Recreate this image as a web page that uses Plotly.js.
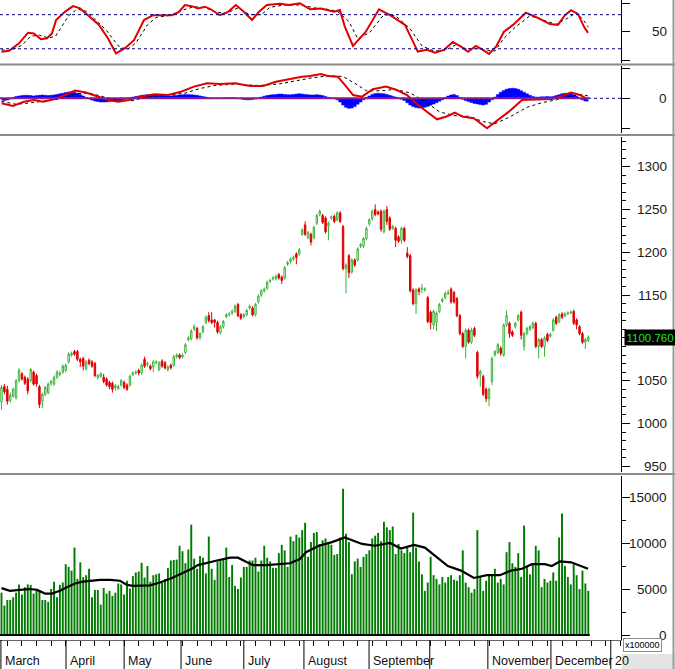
<!DOCTYPE html>
<html><head><meta charset="utf-8">
<script src="https://cdn.plot.ly/plotly-3.0.1.min.js"></script>
<style>html,body{margin:0;padding:0;background:#fff;}#chart{width:675px;height:669px;}</style>
</head><body><div id="chart"></div>
<script>
// ---- Price (OHLC), one entry per trading day ----
const open=[1025,1043,1040,1027,1032,1030,1050,1058,1054,1052,1050,1060,1056,1043,1026,1034,1036,1047,1046,1054,1057,1060,1062,1072,1080,1084,1084,1075,1076,1064,1074,1072,1070,1054,1055,1054,1052,1048,1047,1042,1041,1045,1048,1045,1045,1057,1059,1062,1059,1075,1069,1067,1066,1071,1063,1073,1071,1063,1068,1068,1078,1080,1078,1083,1098,1099,1110,1111,1100,1107,1118,1126,1121,1121,1118,1106,1113,1125,1127,1129,1131,1139,1127,1125,1127,1135,1135,1127,1142,1150,1155,1158,1166,1169,1169,1174,1171,1170,1186,1189,1192,1198,1198,1221,1232,1217,1221,1217,1234,1244,1243,1240,1231,1240,1242,1238,1246,1230,1181,1196,1177,1191,1191,1207,1207,1216,1233,1239,1250,1247,1248,1224,1250,1240,1228,1228,1218,1214,1228,1199,1196,1156,1140,1157,1157,1156,1147,1130,1115,1118,1131,1143,1147,1152,1157,1153,1146,1126,1105,1090,1109,1095,1111,1083,1057,1055,1040,1029,1049,1080,1083,1088,1080,1115,1117,1107,1113,1121,1130,1090,1105,1110,1112,1117,1090,1098,1090,1104,1102,1109,1124,1119,1128,1126,1128,1129,1131,1121,1113,1105,1095,1097];
const high=[1045,1046,1044,1036,1042,1052,1065,1060,1056,1054,1065,1062,1058,1045,1036,1044,1048,1051,1056,1062,1061,1069,1070,1083,1084,1086,1086,1077,1078,1074,1076,1074,1072,1058,1060,1058,1054,1050,1049,1046,1045,1052,1050,1047,1057,1061,1062,1064,1070,1078,1072,1069,1074,1074,1073,1075,1073,1068,1070,1080,1082,1082,1082,1094,1102,1110,1116,1113,1107,1115,1126,1130,1130,1122,1120,1115,1121,1129,1130,1133,1139,1141,1129,1129,1134,1139,1137,1141,1151,1157,1159,1167,1169,1172,1174,1176,1173,1184,1190,1194,1196,1200,1205,1228,1236,1225,1223,1231,1245,1250,1245,1242,1236,1243,1244,1248,1248,1232,1187,1198,1193,1193,1206,1211,1218,1230,1240,1250,1256,1249,1250,1250,1254,1242,1232,1230,1220,1230,1230,1206,1198,1158,1158,1159,1163,1159,1149,1132,1133,1131,1141,1147,1154,1156,1159,1155,1148,1128,1107,1111,1111,1112,1113,1085,1063,1057,1042,1042,1078,1086,1094,1090,1117,1132,1119,1109,1119,1128,1132,1107,1113,1115,1119,1119,1100,1100,1102,1106,1106,1123,1126,1129,1130,1130,1131,1132,1133,1123,1115,1107,1100,1103];
const low=[1016,1034,1022,1024,1030,1028,1048,1050,1045,1034,1048,1044,1043,1018,1018,1032,1034,1044,1044,1052,1055,1058,1060,1070,1078,1079,1073,1066,1062,1062,1068,1065,1054,1052,1053,1047,1043,1040,1036,1038,1039,1043,1040,1038,1043,1055,1057,1056,1057,1065,1066,1062,1060,1069,1061,1065,1063,1061,1063,1066,1076,1075,1076,1081,1096,1097,1108,1098,1098,1105,1116,1118,1116,1112,1105,1104,1111,1123,1125,1127,1129,1124,1121,1123,1125,1133,1125,1125,1140,1148,1153,1156,1164,1167,1167,1168,1163,1168,1184,1187,1190,1186,1196,1219,1219,1215,1208,1215,1232,1242,1233,1222,1214,1238,1234,1236,1234,1179,1152,1170,1175,1183,1189,1205,1205,1214,1231,1237,1242,1243,1224,1222,1232,1225,1226,1206,1211,1210,1212,1193,1153,1138,1128,1150,1152,1154,1117,1110,1110,1108,1129,1141,1145,1150,1140,1140,1124,1103,1088,1076,1093,1093,1101,1052,1043,1032,1025,1020,1045,1078,1081,1079,1078,1113,1100,1101,1111,1119,1098,1085,1103,1108,1110,1088,1076,1088,1078,1095,1100,1107,1115,1117,1122,1124,1127,1128,1115,1110,1103,1093,1087,1095];
const close=[1042,1037,1026,1033,1040,1050,1062,1052,1047,1038,1063,1046,1046,1022,1034,1042,1046,1049,1054,1060,1059,1067,1068,1081,1082,1081,1075,1072,1067,1072,1070,1067,1056,1056,1058,1049,1045,1043,1040,1044,1043,1050,1042,1040,1055,1059,1060,1059,1068,1067,1070,1064,1072,1072,1071,1067,1065,1066,1065,1078,1080,1077,1080,1092,1100,1108,1113,1100,1105,1113,1124,1120,1118,1118,1107,1113,1119,1127,1128,1131,1137,1126,1123,1127,1132,1137,1127,1139,1149,1155,1157,1165,1167,1170,1172,1170,1167,1182,1188,1192,1194,1194,1203,1226,1221,1223,1212,1229,1243,1248,1235,1224,1234,1241,1236,1246,1236,1181,1185,1176,1191,1185,1204,1209,1216,1228,1238,1248,1244,1245,1227,1248,1236,1227,1230,1214,1213,1228,1214,1195,1155,1140,1156,1154,1158,1157,1119,1118,1131,1129,1139,1145,1152,1153,1142,1142,1126,1105,1090,1109,1095,1109,1103,1055,1061,1034,1029,1040,1076,1084,1092,1082,1115,1126,1105,1103,1117,1126,1103,1105,1111,1113,1117,1090,1098,1090,1100,1097,1104,1121,1117,1127,1124,1128,1129,1130,1117,1115,1105,1095,1098,1100.76];
// ---- Volume (units of x100000), one per day ----
const volume=[4600,3200,3800,3800,4100,4600,5500,4400,5200,5500,5450,4500,4800,4800,3800,3800,3600,5000,5800,4100,5450,5700,7700,7400,7000,9500,6100,7900,6300,6500,7200,4100,4900,4900,3300,5100,4500,4800,4250,4600,5600,5500,4400,5900,5050,6400,6800,6900,7850,6250,7500,5800,6500,6600,6700,5700,6100,7300,8100,8150,8200,9700,9100,7800,9300,12000,8300,7200,8600,8400,6700,10700,7200,6000,8000,8150,8300,9500,6300,7600,5350,5000,6250,7400,7400,8100,8100,8400,6900,8100,9700,8400,8000,7300,7300,8900,9800,9200,7400,10700,10200,
10900,10600,11400,12200,8500,10100,11100,11200,9900,10300,10500,10100,9800,8700,8800,10600,15900,11000,10100,6600,8000,8300,7400,8500,8800,9200,10500,10800,11100,10200,12300,11700,11400,11800,8800,9900,9200,8900,9500,9000,13300,9500,8000,6600,4800,5700,8500,6500,6100,5500,6300,5700,6300,6500,6000,5900,6500,9200,5700,5200,4600,5000,11400,6300,4800,5900,6600,6600,7200,5700,6100,5500,9000,10100,7800,7400,8900,6300,11900,7400,6600,7700,9700,9200,5200,6100,5700,5900,6800,5900,10600,13200,7500,6300,5500,7700,6500,5000,7000,5600,4800];
// ---- Volume moving average (day position, value) ----
const volMaX=[0,2.9,6.3,9.8,12.2,14.9,17.3,20,22.4,25.2,27.9,31,33.7,37.2,40.6,43,45,50.9,54.3,58.4,61.8,65.2,67.3,70.4,73.8,78.3,81,84.1,86.1,90.9,95.4,98.8,102.2,104.3,108.7,113.2,117.6,120.4,123.5,127.9,133.1,136.8,141.3,145,148.5,152.9,157.4,161.8,166.3,170.7,174.5,178.3,181.7,186.1,188.5,191.3,195.1,198.1,200.9];
const volMa=[5100,4800,4900,5000,4900,4500,4500,4800,5200,5600,5800,5900,6000,6000,5900,5450,5350,5400,5700,6200,6700,7200,7600,7800,8100,8400,8400,7900,7600,7600,7700,7800,8250,9000,9700,10100,10600,10300,9900,9700,10000,9400,9800,9500,8600,7500,7000,6200,6500,6500,7000,7200,7700,7700,7500,8000,7900,7500,7200];
// ---- MACD ----
const macdHist=[-1.2,-1.5,-1.2,-0.5,0.5,1.2,1.5,1.8,2,2,1.8,1.5,1.8,2,2.2,2,1.8,2,2.2,2.6,3,3.4,3.8,4.2,4.4,4,3.4,2.6,1.6,0.5,-0.5,-1.2,-1.8,-2.2,-2.5,-2.5,-2.4,-2.2,-2,-1.8,-1.6,-1.2,-0.8,-0.3,0.3,0.8,1.2,1.6,2,2.2,2.4,2.6,2.6,2.4,2.2,2,1.8,1.6,1.6,1.8,2,2.2,2.4,2.6,2.6,2.4,2.2,2,1.6,1.2,0.8,0.4,0.2,0,-0.2,0,0.2,0.4,0.5,0.4,0.2,0,-0.4,-0.8,-1,-1,-0.8,-0.4,0.2,0.8,1.4,1.8,2.2,2.4,2.6,2.8,2.8,2.6,2.4,2.4,2.6,2.8,3,2.8,2.6,2.4,2.2,2.2,2.4,2.2,1.8,1.2,0.6,0.2,0,-1,-2.5,-4.5,-6,-6.7,-6.5,-5.5,-4,-2.5,-1,0.5,1.5,2.5,3.2,3.4,3.2,3,2.6,2,1.4,0.8,0.2,-0.6,-1.5,-3,-4.5,-5.5,-6.2,-6.5,-6.5,-6,-5.4,-4.6,-3.8,-3,-2,-1,0.5,1.5,2.2,2.5,1.8,0.6,-0.6,-1.5,-2.2,-2.8,-3.4,-3.8,-4.2,-4.5,-4,-2.5,-1,0.8,2.5,4,5.2,6,6.5,6.7,6.5,6,5,4,3,2,1.2,0.8,0.8,1,1,1.2,1,1.2,1.8,2.4,3,3.3,3.3,3,2.4,1.4,0,-1,-1.8,-2];
const macdX=[0,3.9,7.7,11.1,14.2,18,21.7,25.2,28.9,32.7,36.5,39.9,43.7,47.4,52.6,57,61.5,65.9,70.4,74.8,80,85.1,89.6,94,98.5,102.9,105.7,109.4,111.8,115.2,117.6,120.4,123.5,127.2,131.7,135.4,138.9,142,145.7,149.2,152.2,155.3,158.1,161.8,166.3,169.4,173.8,178.3,182.4,188.5,191.3,195.1,198.1,200.9];
const macdVal=[-3.3,-5.1,-2.3,-1.1,-2.3,-0.7,2.2,5.1,3.8,1.1,-1.1,-2.3,-1.1,1.1,2.7,2.2,4.4,7.8,10,9.5,10,8.2,8.2,11,12.7,14.4,14.9,16.2,14.9,14.4,8.9,2.2,1.1,6,7.8,5.5,2.2,-3.3,-8.9,-14,-12.3,-9.6,-12.3,-13.3,-20,-15.6,-8.9,-1.1,-0.7,-0.5,1.1,3.8,2.2,-0.7];
const macdSigX=[0,5,10,15,20,25,30,35,40,45,50,58,63,68,73,80,88,95,100,106,112,117,121,125,130,135,140,145,150,155,160,165,169,174,180,185,190,195,199,201];
const macdSig=[-2,-4,-3,-2,-0.5,3,3.5,1,-1.5,-1.5,1,2.2,3.5,6.5,8.5,9.5,8.5,9.5,11.5,13.5,15,14.5,10,5,5,6,3.5,-2,-9,-11.5,-12,-15.5,-17,-12.5,-6,-3,-1,1.5,2.5,1.5];
// ---- RSI ----
const rsiX=[0,2.6,6,9.1,11.1,13.5,15.6,17.3,18.7,21.7,24.5,26.9,29.6,33.4,36.5,39.2,42.3,45.4,48.8,51.9,55.7,58.4,60.8,62.8,65.2,67.3,69.7,71.7,74.8,77.6,80.3,83,85.8,88.2,90.9,95.4,98.5,102.2,105.7,109.4,113.9,115.9,117.6,120.4,124.8,129.3,133.1,138.2,142.6,145.7,148.5,151.5,154.6,157.4,159.8,162.5,164.9,167,169.4,172.1,175.2,179.6,184.1,187.8,190.6,193,195.1,197.5,199.5,200.9];
const rsiVal=[14.8,16.5,29.6,48.2,47,36.6,38.4,47,70.6,85,95,91,79,62,38,12,21,35,70.6,79,79,79,85,97,95,91,94,89.5,79,85,97,85,70.6,85,97,99,97,100,89.5,91,85,88,59,25,50,89.5,79,62,15,18,13,18,32,23.6,14.8,25,18,10.7,23.6,50,62,83.5,73.6,63.5,62,79,88,81,59,48];
const rsiSigX=[0,3,7,10,13,16,18.5,20.5,23,26,29,32,36,40,43,46,50,53,58,62,66,70,73,77,81,85,89,92,97,103,107,111,115,119,122,126,131,135,140,144,148,152,156,159,163,166,169,172,176,181,186,190,194,197,200,201];
const rsiSig=[18,17,26,42,44,39,42,58,78,90,86,72,52,25,18,30,62,75,79,88,94,92,85,82,92,80,80,93,97,97,92,90,86,68,38,48,80,78,55,25,16,17,28,20,20,17,16,38,58,78,70,63,74,84,66,58];
// ---- Axis labels ----
const monthNames=['March','April','May','June','July','August','September','','November','December','20'];
const monthStarts=[-0.2,22.1,42,61.5,83,103.6,125.9,146.7,166.6,188.2,208.7];
const priceTicks=[950,1000,1050,1150,1200,1250,1300]; // 1100 is hidden behind the last-price box
const volTicks=[0,5000,10000,15000];
const lastPriceLabel='1100.760';

const days=close.map((_,i)=>i);
const FONT='Liberation Sans, Arial, sans-serif';
const H=640;
const pf=y=>(H-y)/H;
const PW=621;
const px=x=>x/PW;

const traces=[
 {type:'bar',x:days,y:volume,xaxis:'x',yaxis:'y',width:0.66,marker:{color:'#007a00',line:{width:0}},hoverinfo:'skip'},
 {type:'scatter',mode:'lines',x:volMaX,y:volMa,xaxis:'x',yaxis:'y',line:{color:'#000',width:2.2},hoverinfo:'skip'},
 {type:'candlestick',x:days,open:open,high:high,low:low,close:close,xaxis:'x',yaxis:'y2',whiskerwidth:0,
  increasing:{line:{color:'#3cb43c',width:1},fillcolor:'#ffffff'},
  decreasing:{line:{color:'#e00000',width:1},fillcolor:'#e00000'},hoverinfo:'skip'},
 {type:'scatter',mode:'lines',x:days,y:macdHist,xaxis:'x',yaxis:'y3',line:{color:'#0000ff',width:0.5,shape:'hvh'},
  fill:'tozeroy',fillcolor:'#0000ff',hoverinfo:'skip'},
 {type:'scatter',mode:'lines',x:macdSigX,y:macdSig,xaxis:'x',yaxis:'y3',line:{color:'#000',width:1,dash:'dot'},hoverinfo:'skip'},
 {type:'scatter',mode:'lines',x:macdX,y:macdVal,xaxis:'x',yaxis:'y3',line:{color:'#e00000',width:2},hoverinfo:'skip'},
 {type:'scatter',mode:'lines',x:rsiSigX,y:rsiSig,xaxis:'x',yaxis:'y4',line:{color:'#000',width:1,dash:'dot'},hoverinfo:'skip'},
 {type:'scatter',mode:'lines',x:rsiX,y:rsiVal,xaxis:'x',yaxis:'y4',line:{color:'#e00000',width:2},hoverinfo:'skip'}
];

const yBase={side:'right',anchor:'x',showline:true,linecolor:'#000',linewidth:1,ticks:'outside',ticklen:8,tickcolor:'#000',
  showgrid:false,zeroline:false,showticklabels:false,fixedrange:true};
const weekTicks=[];
for(let d=2;d<=212;d+=5) weekTicks.push(d);

const shapes=[];
[64.5,135,474].forEach(y=>shapes.push({type:'line',xref:'paper',yref:'paper',x0:0,x1:px(675),y0:pf(y),y1:pf(y),line:{color:'#8a8a8a',width:2}}));
[80,20].forEach(v=>shapes.push({type:'line',xref:'paper',yref:'y4',x0:0,x1:1,y0:v,y1:v,line:{color:'#000080',width:1,dash:'dot'}}));
shapes.push({type:'line',xref:'paper',yref:'y3',x0:0,x1:1,y0:0,y1:0,line:{color:'#000080',width:1,dash:'dot'}});
shapes.push({type:'line',xref:'x',yref:'y3',x0:-0.5,x1:close.length-0.5,y0:0,y1:0,line:{color:'#8a1f8f',width:2}});
shapes.push({type:'line',xref:'x',yref:'y',x0:-0.5,x1:close.length-0.5,y0:0,y1:0,line:{color:'#000',width:2}});
monthStarts.forEach(d=>shapes.push({type:'line',xref:'x',yref:'paper',x0:d,x1:d,y0:0,y1:-29/H,line:{color:'#000',width:1}}));
shapes.push({type:'rect',xref:'paper',yref:'paper',x0:px(622),x1:px(675),y0:pf(654),y1:pf(669),fillcolor:'#e4e4e4',line:{width:0}});
shapes.push({type:'line',xref:'paper',yref:'paper',x0:px(673.5),x1:px(673.5),y0:pf(669),y1:1,line:{color:'#9a9a9a',width:2}});

const ann=[];
const lab=(text,y,yref,size)=>({text:String(text),xref:'paper',x:px(669),xanchor:'right',yref:yref,y:y,yanchor:'middle',showarrow:false,font:{family:FONT,size:size||13.5,color:'#1a1a1a'}});
priceTicks.forEach(v=>ann.push(lab(v,v,'y2')));
volTicks.forEach(v=>ann.push(lab(v,v,'y')));
ann.push(lab(50,50,'y4'));
ann.push(lab(0,0,'y3'));
ann.push({text:lastPriceLabel,xref:'paper',x:px(623.5),xanchor:'left',yref:'y2',y:close[close.length-1],yanchor:'middle',showarrow:false,
  bgcolor:'#000',borderpad:1.5,font:{family:FONT,size:11.5,color:'#1ee61e'}});
ann.push({text:'x100000',xref:'paper',x:px(623),xanchor:'left',yref:'paper',y:pf(644.5),yanchor:'middle',showarrow:false,
  bgcolor:'#fff',bordercolor:'#8a8a8a',borderwidth:1,borderpad:1,font:{family:FONT,size:9,color:'#000'}});
monthNames.forEach((m,i)=>{ if(m) ann.push({text:m,xref:'x',x:monthStarts[i]+0.6,xanchor:'left',yref:'paper',y:pf(661),yanchor:'middle',
  showarrow:false,font:{family:FONT,size:12.5,color:'#111'}}); });

const layout={
 width:675,height:669,margin:{l:0,r:54,t:0,b:29,pad:0},paper_bgcolor:'#fff',plot_bgcolor:'#fff',
 showlegend:false,hovermode:false,barmode:'overlay',
 xaxis:{domain:[0,1],range:[-0.51,212.2],anchor:'y',showgrid:false,zeroline:false,showline:true,linecolor:'#666',
   ticks:'outside',tickvals:weekTicks,ticklen:5,tickcolor:'#000',showticklabels:false,rangeslider:{visible:false},fixedrange:true},
 yaxis:Object.assign({},yBase,{domain:[0,pf(476)],range:[-543,17283],tickmode:'linear',tick0:0,dtick:5000,
   minor:{dtick:2500,ticklen:4,ticks:'outside',tickcolor:'#000',showgrid:false}}),
 yaxis2:Object.assign({},yBase,{domain:[pf(472),pf(137)],range:[943.3,1334.7],tickmode:'linear',tick0:0,dtick:50,
   minor:{dtick:10,ticklen:4,ticks:'outside',tickcolor:'#000',showgrid:false}}),
 yaxis3:Object.assign({},yBase,{domain:[pf(133),pf(66)],range:[-23.1,21.5],tickmode:'linear',tick0:0,dtick:20}),
 yaxis4:Object.assign({},yBase,{domain:[pf(63),1],range:[-5.1,105.8],tickmode:'linear',tick0:0,dtick:50}),
 shapes:shapes,annotations:ann
};
Plotly.newPlot('chart',traces,layout,{staticPlot:true,displayModeBar:false});
</script></body></html>
